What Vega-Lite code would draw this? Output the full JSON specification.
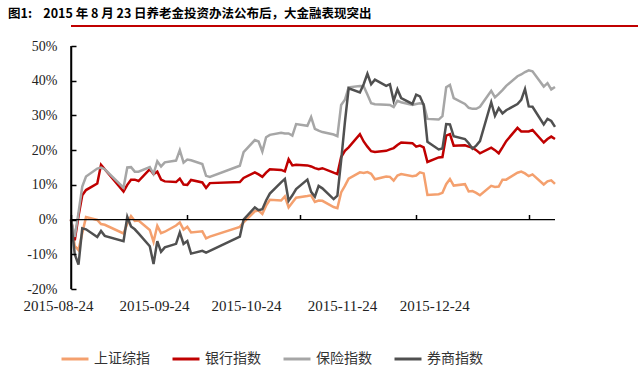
{
  "$schema": "https://vega.github.io/schema/vega-lite/v6.json",
  "padding": {"left": 5, "top": 7, "right": 0, "bottom": 0},
  "title": {"text": "图1:\u00a0\u00a0\u00a0 2015 年 8 月 23 日养老金投资办法公布后，大金融表现突出", "anchor": "start", "frame": "bounds", "font": "Noto Sans CJK SC", "fontSize": 12.5, "fontWeight": "bold", "color": "#000000", "offset": 3, "dx": 3},
  "spacing": 10,
  "config": {
    "view": {"stroke": null},
    "axis": {"domainOpacity": 1, "tickOpacity": 1, "domainColor": "#000000", "tickColor": "#000000", "domainWidth": 1.5, "tickWidth": 1.5}
  },
  "vconcat": [
    {
      "width": 633,
      "height": 2,
      "view": {"fill": "#C00000", "stroke": null},
      "data": {"values": [{}]},
      "mark": {"type": "point", "opacity": 0},
      "encoding": {}
    },
    {
      "width": 484,
      "height": 243,
      "data": {"values": [
        {"d":"2015-08-24","上证综指":0,"银行指数":0,"保险指数":0,"券商指数":0},
        {"d":"2015-08-25","上证综指":-7.6,"银行指数":-6,"保险指数":-5,"券商指数":-10},
        {"d":"2015-08-26","上证综指":-8.8,"银行指数":1,"保险指数":2,"券商指数":-13},
        {"d":"2015-08-27","上证综指":-3.9,"银行指数":7,"保险指数":9.5,"券商指数":-2.5},
        {"d":"2015-08-28","上证综指":0.7,"银行指数":8.5,"保险指数":12.4,"券商指数":-2.8},
        {"d":"2015-08-31","上证综指":-0.1,"银行指数":10.4,"保险指数":14.7,"券商指数":-5},
        {"d":"2015-09-01","上证综指":-1.3,"银行指数":15.8,"保险指数":15,"券商指数":-3.3},
        {"d":"2015-09-02","上证综指":-1.5,"银行指数":14.5,"保险指数":14.5,"券商指数":-4.7},
        {"d":"2015-09-07","上证综指":-4.0,"银行指数":8.1,"保险指数":9.2,"券商指数":-6.2},
        {"d":"2015-09-08","上证综指":-1.2,"银行指数":10,"保险指数":15,"券商指数":0.8},
        {"d":"2015-09-09","上证综指":1.0,"银行指数":11.5,"保险指数":15.1,"券商指数":-2},
        {"d":"2015-09-10","上证综指":-0.4,"银行指数":11.5,"保险指数":13.8,"券商指数":-2.8},
        {"d":"2015-09-11","上证综指":-0.3,"银行指数":11.1,"保险指数":13.8,"券商指数":-4},
        {"d":"2015-09-14","上证综指":-3.0,"银行指数":14.5,"保险指数":15.1,"券商指数":-7.7},
        {"d":"2015-09-15","上证综指":-6.4,"银行指数":13.1,"保险指数":13.2,"券商指数":-12.8},
        {"d":"2015-09-16","上证综指":-1.8,"银行指数":13.8,"保险指数":16.8,"券商指数":-6.2},
        {"d":"2015-09-17","上证综指":-3.9,"银行指数":11.5,"保险指数":15.3,"券商指数":-9.3},
        {"d":"2015-09-18","上证综指":-3.5,"银行指数":11,"保险指数":16.5,"券商指数":-8},
        {"d":"2015-09-21","上证综指":-1.7,"银行指数":10.8,"保险指数":17,"券商指数":-7},
        {"d":"2015-09-22","上证综指":-0.8,"银行指数":11.8,"保险指数":20,"券商指数":-3.7},
        {"d":"2015-09-23","上证综指":-2.9,"银行指数":10.1,"保险指数":16.4,"券商指数":-7},
        {"d":"2015-09-24","上证综指":-2.1,"银行指数":10,"保险指数":17.3,"券商指数":-6.2},
        {"d":"2015-09-25","上证综指":-3.7,"银行指数":11.4,"保险指数":17.1,"券商指数":-9.8},
        {"d":"2015-09-28","上证综指":-3.4,"银行指数":10.7,"保险指数":16,"券商指数":-9},
        {"d":"2015-09-29","上证综指":-5.4,"银行指数":9.1,"保险指数":12.6,"券商指数":-9.5},
        {"d":"2015-09-30","上证综指":-4.9,"银行指数":10.5,"保险指数":12.3,"券商指数":-9},
        {"d":"2015-10-08","上证综指":-2.1,"银行指数":10.8,"保险指数":15.5,"券商指数":-4.9},
        {"d":"2015-10-09","上证综指":-0.8,"银行指数":12,"保险指数":19.4,"券商指数":0},
        {"d":"2015-10-12","上证综指":2.4,"银行指数":13.6,"保险指数":22.9,"券商指数":3.5},
        {"d":"2015-10-13","上证综指":2.6,"银行指数":13,"保险指数":22.5,"券商指数":2.7},
        {"d":"2015-10-14","上证综指":1.6,"银行指数":12.3,"保险指数":19.6,"券商指数":3},
        {"d":"2015-10-15","上证综指":4.0,"银行指数":13.5,"保险指数":23.7,"券商指数":5.5},
        {"d":"2015-10-16","上证综指":5.7,"银行指数":14.5,"保险指数":24.4,"券商指数":7.5},
        {"d":"2015-10-19","上证综指":5.5,"银行指数":14.3,"保险指数":25,"券商指数":10.7},
        {"d":"2015-10-20","上证综指":6.7,"银行指数":13.9,"保险指数":24.8,"券商指数":11.7},
        {"d":"2015-10-21","上证综指":3.5,"银行指数":17.4,"保险指数":24.8,"券商指数":5.4},
        {"d":"2015-10-22","上证综指":4.9,"银行指数":15.6,"保险指数":24.2,"券商指数":7},
        {"d":"2015-10-23","上证综指":6.3,"银行指数":15.8,"保险指数":27.5,"券商指数":8.8},
        {"d":"2015-10-26","上证综指":6.8,"银行指数":15.6,"保险指数":27,"券商指数":11.5},
        {"d":"2015-10-27","上证综指":7.0,"银行指数":15.3,"保险指数":29.5,"券商指数":8},
        {"d":"2015-10-28","上证综指":5.1,"银行指数":14.8,"保险指数":26.1,"券商指数":6.6},
        {"d":"2015-10-29","上证综指":5.5,"银行指数":14.5,"保险指数":25.6,"券商指数":9.7},
        {"d":"2015-10-30","上证综指":5.4,"银行指数":14.8,"保险指数":25.2,"券商指数":9},
        {"d":"2015-11-02","上证综指":3.6,"银行指数":13.5,"保险指数":24.5,"券商指数":5.9},
        {"d":"2015-11-03","上证综指":3.3,"银行指数":13.1,"保险指数":24,"券商指数":6.9},
        {"d":"2015-11-04","上证综指":7.8,"银行指数":18,"保险指数":33,"券商指数":17},
        {"d":"2015-11-05","上证综指":9.7,"银行指数":19.8,"保险指数":34.5,"券商指数":28},
        {"d":"2015-11-06","上证综指":11.8,"银行指数":20.8,"保险指数":38.1,"券商指数":37.8},
        {"d":"2015-11-09","上证综指":13.6,"银行指数":24.6,"保险指数":38.5,"券商指数":36.6},
        {"d":"2015-11-10","上证综指":13.4,"银行指数":22.5,"保险指数":38.4,"券商指数":39},
        {"d":"2015-11-11","上证综指":13.7,"银行指数":21,"保险指数":36,"券商指数":42},
        {"d":"2015-11-12","上证综指":13.2,"银行指数":19.7,"保险指数":33.5,"券商指数":39},
        {"d":"2015-11-13","上证综指":11.6,"银行指数":19.5,"保险指数":33.2,"券商指数":40.3},
        {"d":"2015-11-16","上证综指":12.4,"银行指数":19.8,"保险指数":33.1,"券商指数":38.5},
        {"d":"2015-11-17","上证综指":12.3,"银行指数":20.2,"保险指数":33,"券商指数":39},
        {"d":"2015-11-18","上证综指":11.2,"银行指数":20.6,"保险指数":32.4,"券商指数":34.2},
        {"d":"2015-11-19","上证综指":12.7,"银行指数":21.5,"保险指数":34.2,"券商指数":37.5},
        {"d":"2015-11-20","上证综指":13.1,"银行指数":22.2,"保险指数":33.8,"券商指数":35},
        {"d":"2015-11-23","上证综指":12.5,"银行指数":22,"保险指数":33,"券商指数":33.3},
        {"d":"2015-11-24","上证综指":12.7,"银行指数":21,"保险指数":33.3,"券商指数":36},
        {"d":"2015-11-25","上证综指":13.6,"银行指数":21.3,"保险指数":33.5,"券商指数":35.5},
        {"d":"2015-11-26","上证综指":13.3,"银行指数":20.8,"保险指数":33.3,"券商指数":33},
        {"d":"2015-11-27","上证综指":7.1,"银行指数":16.6,"保险指数":29,"券商指数":22.4},
        {"d":"2015-11-30","上证综指":7.3,"银行指数":17.9,"保险指数":28.8,"券商指数":20.2},
        {"d":"2015-12-01","上证综指":7.7,"银行指数":18,"保险指数":29.8,"券商指数":20.5},
        {"d":"2015-12-02","上证综指":10.2,"银行指数":24.2,"保险指数":38.1,"券商指数":27.5},
        {"d":"2015-12-03","上证综指":11.7,"银行指数":24.6,"保险指数":38.8,"券商指数":27.4},
        {"d":"2015-12-04","上证综指":9.8,"银行指数":21.3,"保险指数":35,"券商指数":24},
        {"d":"2015-12-07","上证综指":10.2,"银行指数":21.4,"保险指数":33.3,"券商指数":23.2},
        {"d":"2015-12-08","上证综指":8.1,"银行指数":21,"保险指数":32.2,"券商指数":22},
        {"d":"2015-12-09","上证综指":8.2,"银行指数":20.7,"保险指数":31.9,"券商指数":20.4},
        {"d":"2015-12-10","上证综指":7.7,"银行指数":20,"保险指数":31.9,"券商指数":21.3},
        {"d":"2015-12-11","上证综指":7.0,"银行指数":19.1,"保险指数":32.5,"券商指数":22.6},
        {"d":"2015-12-14","上证综指":9.7,"银行指数":20.7,"保险指数":37.1,"券商指数":33.8},
        {"d":"2015-12-15","上证综指":9.4,"银行指数":20,"保险指数":35.2,"券商指数":29.9},
        {"d":"2015-12-16","上证综指":9.5,"银行指数":19.1,"保险指数":36.2,"券商指数":32.1},
        {"d":"2015-12-17","上证综指":11.5,"银行指数":20.8,"保险指数":37.3,"券商指数":30.6},
        {"d":"2015-12-18","上证综指":11.5,"银行指数":22.6,"保险指数":38.5,"券商指数":31.5},
        {"d":"2015-12-21","上证综指":13.5,"银行指数":26.4,"保险指数":41.3,"券商指数":33.3},
        {"d":"2015-12-22","上证综指":13.8,"银行指数":25.4,"保险指数":41.8,"券商指数":34.5},
        {"d":"2015-12-23","上证综指":13.3,"银行指数":25.4,"保险指数":42.5,"券商指数":37.6},
        {"d":"2015-12-24","上证综指":12.5,"银行指数":25.4,"保险指数":43,"券商指数":32.6},
        {"d":"2015-12-25","上证综指":13.0,"银行指数":25.8,"保险指数":42.7,"券商指数":32.5},
        {"d":"2015-12-28","上证综指":10.1,"银行指数":22.2,"保险指数":38.3,"券商指数":27.4},
        {"d":"2015-12-29","上证综指":11.0,"银行指数":23.2,"保险指数":39.3,"券商指数":29},
        {"d":"2015-12-30","上证综指":11.3,"银行指数":23.9,"保险指数":37.5,"券商指数":28.4},
        {"d":"2015-12-31","上证综指":10.3,"银行指数":23.2,"保险指数":38.2,"券商指数":26.7}
      ]},
      "transform": [{"fold": ["上证综指", "银行指数", "保险指数", "券商指数"], "as": ["series", "value"]}],
      "resolve": {"axis": {"x": "independent", "y": "independent"}},
      "layer": [
        {
          "mark": {"type": "line", "strokeWidth": 2.5},
          "encoding": {
            "x": {
              "field": "d", "type": "temporal",
              "scale": {"type": "utc", "domain": [{"year": 2015, "month": 8, "date": 24, "utc": true}, {"year": 2015, "month": 12, "date": 31, "utc": true}]},
              "axis": {
                "orient": "bottom", "title": null, "domain": false, "ticks": false, "grid": false,
                "values": [{"year": 2015, "month": 8, "date": 24, "utc": true}, {"year": 2015, "month": 9, "date": 24, "utc": true}, {"year": 2015, "month": 10, "date": 24, "utc": true}, {"year": 2015, "month": 11, "date": 24, "utc": true}, {"year": 2015, "month": 12, "date": 24, "utc": true}],
                "format": "%Y-%m-%d", "labelFont": "Liberation Serif", "labelFontSize": 15, "labelColor": "#222222",
                "labelPadding": 9, "labelFlush": false, "labelOverlap": false,
                "labelOffset": {"expr": "-13 - 81.5*datum.index"}
              }
            },
            "y": {
              "field": "value", "type": "quantitative",
              "scale": {"domain": [-20, 50], "nice": false, "zero": false},
              "axis": {
                "orient": "left", "zindex": 2,
                "title": " ", "titleX": -66, "titleY": 120, "titleAngle": 0, "titleAlign": "left",
                "values": [-20, -10, 0, 10, 20, 30, 40, 50], "labelExpr": "datum.value + '%'",
                "grid": false, "domain": true, "domainColor": "#000000", "domainWidth": 1.5, "domainOpacity": 1, "ticks": false,
                "labelFont": "Liberation Serif", "labelFontSize": 14, "labelColor": "#222222", "labelPadding": 14
              }
            },
            "color": {
              "field": "series", "type": "nominal",
              "scale": {"domain": ["上证综指", "银行指数", "保险指数", "券商指数"], "range": ["#F4A06E", "#C00000", "#A6A6A6", "#505050"]},
              "legend": {
                "orient": "none", "legendX": -11, "legendY": 319, "direction": "horizontal", "title": null,
                "symbolType": "stroke", "symbolSize": 729, "symbolStrokeWidth": 3,
                "labelFont": "Noto Sans CJK SC", "labelFontSize": 14, "labelColor": "#333333",
                "labelOffset": 4, "columnPadding": 16
              }
            }
          }
        },
        {
          "mark": {"type": "rule", "color": "#000000", "strokeWidth": 1.2},
          "encoding": {
            "x": {
              "aggregate": "min", "field": "d", "type": "temporal",
              "axis": {
                "orient": "top", "title": null, "offset": -173.5, "domain": false, "labels": false, "grid": false, "zindex": 2,
                "ticks": true, "tickSize": 5, "tickColor": "#000000", "tickWidth": 1.5, "tickOpacity": 1,
                "values": [{"year": 2015, "month": 8, "date": 24, "utc": true}, {"year": 2015, "month": 9, "date": 24, "utc": true}, {"year": 2015, "month": 10, "date": 24, "utc": true}, {"year": 2015, "month": 11, "date": 24, "utc": true}, {"year": 2015, "month": 12, "date": 24, "utc": true}]
              }
            },
            "x2": {"aggregate": "max", "field": "d"},
            "y": {
              "datum": 0, "type": "quantitative",
              "axis": {
                "orient": "right", "title": null, "offset": -484, "domain": false, "labels": false, "grid": false, "zindex": 2,
                "ticks": true, "tickSize": 5, "tickColor": "#000000", "tickWidth": 1.5, "tickOpacity": 1,
                "values": [-20, -10, 0, 10, 20, 30, 40, 50]
              }
            }
          }
        },
        {
          "mark": {"type": "rule", "color": "#000000", "strokeWidth": 1.5},
          "encoding": {
            "x": {"aggregate": "min", "field": "d", "type": "temporal", "axis": null},
            "y": {"datum": -20, "type": "quantitative", "axis": null},
            "y2": {"datum": 50}
          }
        }
      ]
    }
  ]
}
